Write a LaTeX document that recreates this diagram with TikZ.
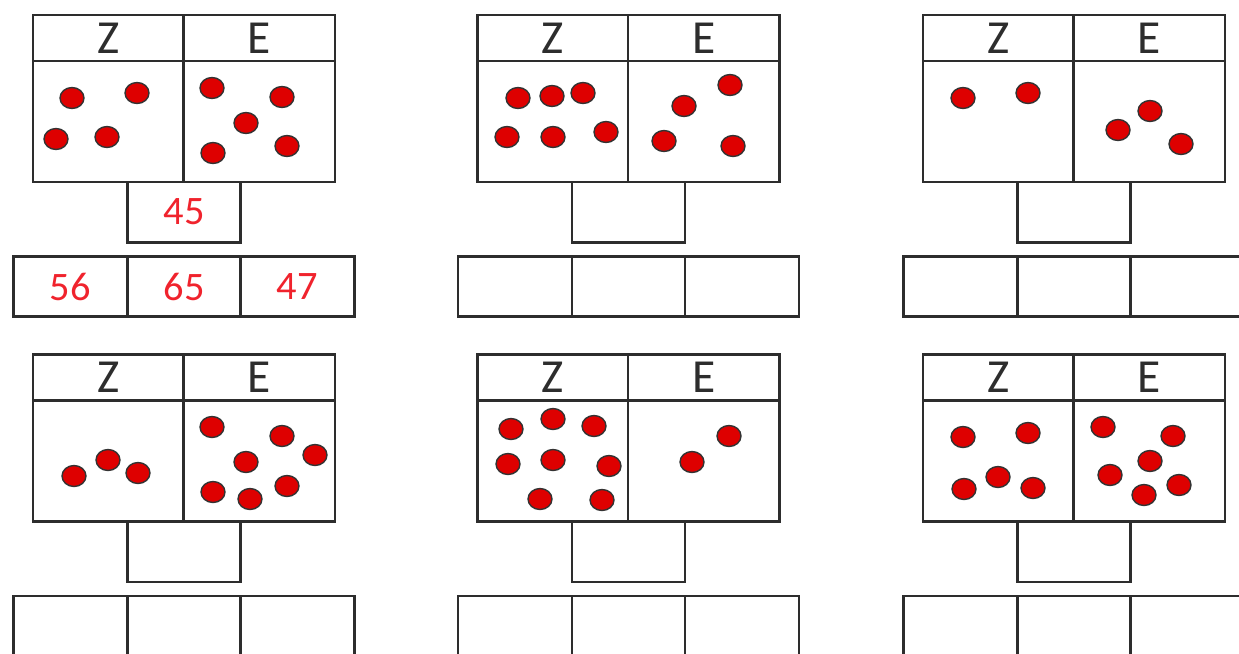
\documentclass[tikz,border=0pt]{standalone}
\usepackage{fontspec}
\setmainfont{Carlito}
\usetikzlibrary{calc}
\definecolor{ink}{RGB}{45,45,45}
\definecolor{dotred}{RGB}{222,0,0}
\definecolor{pen}{RGB}{240,35,45}

\begin{document}
\begin{tikzpicture}[x=0.02cm,y=-0.02cm,line width=1.4pt,
  ball/.style={fill=dotred,draw=black!80,line width=0.8pt},
  head/.style={ink,font=\fontsize{27}{27}\selectfont,inner sep=0pt},
  answer/.style={pen,font=\fontsize{23}{23}\selectfont,inner sep=0pt}]
  \useasboundingbox (0,0) rectangle (1239,653);
  % frames: header, two columns, small box and row of three
  \foreach \p/\x/\y in {1/33/15,2/477.5/15,3/923/15,4/33/354.5,5/477.5/354.5,6/923/354.5} {
    \begin{scope}[shift={(\x,\y)}]
      \draw[ink] (0,0) rectangle (302,167); \draw[ink] (0,46)--(302,46); \draw[ink] (150.5,0)--(150.5,167);
      \node[head] (z\p) at (75.5,23) {Z}; \node[head] (e\p) at (226.5,23) {E};
      \draw[ink] (94.6,167)--(94.6,227.3)--(207.6,227.3)--(207.6,167);
      \draw[ink] (-19.4,241.7) rectangle (321.3,301.7); \draw[ink] (94.6,241.7)--(94.6,301.7); \draw[ink] (207.6,241.7)--(207.6,301.7);
    \end{scope}}
  % dots
  \foreach \a/\b in {72/98,137/93,56/139,107/137,212/88,282/97,246/123,213/153,287/146,
                     518/98,552/96,583/93,507/137,553/137,606/132,730/85,684/106,664/141,733/146,
                     963/98,1028/93,1150/111,1118/130,1181/144,
                     74/476,108/460,138/473,212/427,282/436,246/462,315/455,213/492,250/499,287/486,
                     511/429,553/419,594/426,508/464,553/460,609/466,540/499,602/500,729/436,692/462,
                     963/437,1028/433,964/489,998/477,1033/488,1103/427,1173/436,1150/461,1110/475,1179/485,1144/495}
    \draw[ball] (\a,\b) ellipse[x radius=0.24cm,y radius=0.21cm];
  % worked example
  \node[answer] (t1) at (184,212) {45};
  \foreach \k/\x/\n in {1/70/56,2/184/65,3/297/47} {\node[answer] (u\k) at (\x,287) {\n};}
\end{tikzpicture}
\end{document}
